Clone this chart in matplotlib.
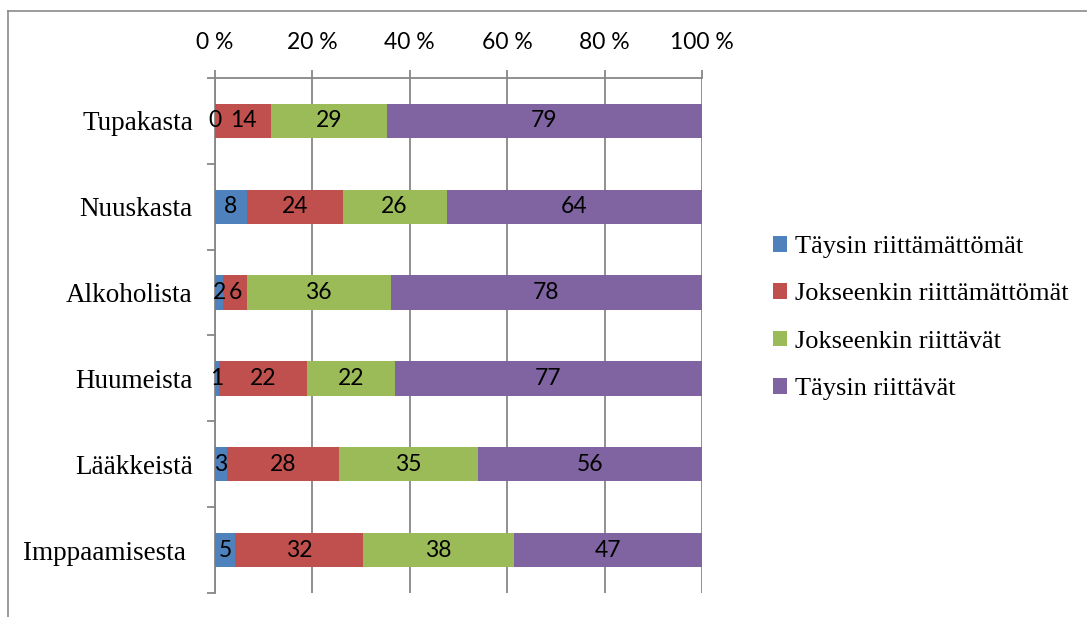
import matplotlib.pyplot as plt
import numpy as np
from matplotlib.ticker import FixedLocator
from matplotlib.lines import Line2D

categories = ['Tupakasta', 'Nuuskasta', 'Alkoholista', 'Huumeista', 'Lääkkeistä', 'Imppaamisesta ']
series_names = ['Täysin riittämättömät', 'Jokseenkin riittämättömät',
                'Jokseenkin riittävät', 'Täysin riittävät']
taysin_riittamattomat = [0, 8, 2, 1, 3, 5]
jokseenkin_riittamattomat = [14, 24, 6, 22, 28, 32]
jokseenkin_riittavat = [29, 26, 36, 22, 35, 38]
taysin_riittavat = [79, 64, 78, 77, 56, 47]
colors = ['#4F81BD', '#C0504D', '#9BBB59', '#8064A2']
xticks = [0, 20, 40, 60, 80, 100]
xtick_labels = ['0 %', '20 %', '40 %', '60 %', '80 %', '100 %']

counts = np.array([taysin_riittamattomat, jokseenkin_riittamattomat,
                   jokseenkin_riittavat, taysin_riittavat], dtype=float)
shares = counts / counts.sum(axis=0) * 100

fig = plt.figure(figsize=(10.87, 6.17), dpi=100)
ax = fig.add_axes([0.1978, 0.0389, 0.6458 - 0.1978, 0.8736 - 0.0389])

ypos = np.arange(len(categories))
left = np.zeros(len(categories))
for i in range(4):
    bars = ax.barh(ypos, shares[i], left=left, height=0.4, color=colors[i],
                   label=series_names[i], zorder=3)
    ax.bar_label(bars, labels=[str(int(v)) for v in counts[i]], label_type='center',
                 fontsize=16.5, family='Lato', color='black', zorder=4)
    left += shares[i]

ax.set_xlim(0, 100)
ax.set_ylim(len(categories) - 0.5, -0.5)
ax.xaxis.tick_top()
ax.set_xticks(xticks)
ax.set_xticklabels(xtick_labels, family='Lato', fontsize=16.5)
ax.tick_params(axis='x', direction='out', length=6, width=1.3, color='#878787', pad=12)
ax.grid(axis='x', color='#878787', linewidth=1.3, zorder=0)

ax.set_yticks(ypos)
ax.set_yticklabels(categories, family='Liberation Serif', fontsize=19.5)
ax.tick_params(axis='y', which='major', length=0, pad=16)
ax.yaxis.set_minor_locator(FixedLocator(np.arange(-0.5, len(categories), 1)))
ax.tick_params(axis='y', which='minor', direction='out', length=6, width=1.3, color='#878787')

for s in ['right', 'bottom']:
    ax.spines[s].set_visible(False)
for s in ['top', 'left']:
    ax.spines[s].set_color('#878787')
    ax.spines[s].set_linewidth(1.3)

leg = fig.legend(loc='center left', bbox_to_anchor=(0.689, 0.4846), frameon=False,
                 prop={'family': 'Liberation Serif', 'size': 19},
                 handlelength=0.55, handleheight=0.55, handletextpad=0.28, labelspacing=0.95)

# outer chart frame (top and left edges visible)
fig.add_artist(Line2D([8 / 1087, 1], [1 - 11 / 617, 1 - 11 / 617], color='#8a8a8a', linewidth=1.2))
fig.add_artist(Line2D([8 / 1087, 8 / 1087], [0, 1 - 11 / 617], color='#8a8a8a', linewidth=1.2))

plt.savefig('out.png', dpi=100)
